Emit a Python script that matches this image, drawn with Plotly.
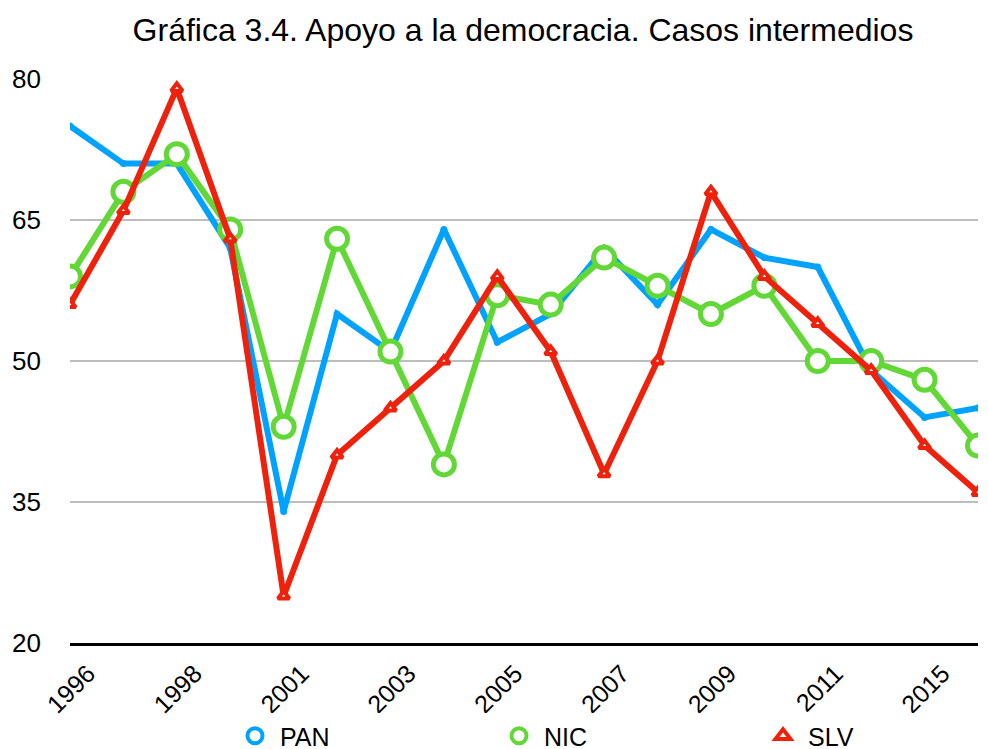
import plotly.graph_objects as go

years = ["1996", "1997", "1998", "2000", "2001", "2002", "2003", "2004", "2005",
         "2006", "2007", "2008", "2009", "2010", "2011", "2013", "2015", "2016"]
pan = [75, 71, 71, 62, 34, 55, 51, 64, 52, 55, 62, 56, 64, 61, 60, 49, 44, 45]
nic = [59, 68, 72, 64, 43, 63, 51, 39, 57, 56, 61, 58, 55, 58, 50, 50, 48, 41]
slv = [56, 66, 79, 63, 25, 40, 45, 50, 59, 51, 38, 50, 68, 59, 54, 49, 41, 36]
tick_years = ["1996", "1998", "2001", "2003", "2005", "2007", "2009", "2011", "2015"]
y_ticks = [20, 35, 50, 65, 80]
series_names = ["PAN", "NIC", "SLV"]

BLUE = "#00A2FF"
GREEN = "#61D836"
RED = "#EE220C"
FONT = "Liberation Sans"

fig = go.Figure()
fig.add_trace(go.Scatter(
    x=years, y=pan, name="PAN", mode="lines+markers", showlegend=False,
    line=dict(color=BLUE, width=6),
    marker=dict(symbol="circle", size=7, color=BLUE),
))
fig.add_trace(go.Scatter(
    x=years, y=nic, name="NIC", mode="lines+markers", showlegend=False,
    line=dict(color=GREEN, width=6),
    marker=dict(symbol="circle", size=21, color="white", line=dict(color=GREEN, width=5)),
))
fig.add_trace(go.Scatter(
    x=years, y=slv, name="SLV", mode="lines+markers", showlegend=False,
    line=dict(color=RED, width=6),
    marker=dict(symbol="triangle-up", size=10, color="white", line=dict(color=RED, width=4)),
))

# legend entries (symbol only, like the reference)
legend_styles = [
    ("circle", BLUE, 15),
    ("circle", GREEN, 15),
    ("triangle-up", RED, 13),
]
for name, (sym, col, sz) in zip(series_names, legend_styles):
    fig.add_trace(go.Scatter(
        x=[None], y=[None], name=name, mode="markers", showlegend=True,
        marker=dict(symbol=sym, size=sz, color="white", line=dict(color=col, width=4)),
    ))

L, T, PW, PH = 62, 71, 908, 564
fig.update_layout(
    width=988, height=749,
    margin=dict(l=L, r=988 - L - PW, t=T, b=749 - T - PH, autoexpand=False),
    plot_bgcolor="white", paper_bgcolor="white",
    font=dict(family=FONT, size=25, color="black"),
    title=dict(text="Gráfica 3.4. Apoyo a la democracia. Casos intermedios",
               xref="paper", x=(515 - L) / PW, xanchor="center",
               y=1 - 22 / 749, yanchor="middle",
               font=dict(family=FONT, size=32, color="black")),
    showlegend=True,
    legend=dict(orientation="h", x=(222 - L) / PW, xanchor="left",
                y=-0.1649, yanchor="middle",
                font=dict(family=FONT, size=25), itemsizing="trace",
                itemwidth=40,
                entrywidth=209, entrywidthmode="pixels", traceorder="normal"),
)
fig.update_xaxes(
    type="category", categoryorder="array", categoryarray=years,
    tickmode="array", tickvals=tick_years, ticktext=tick_years,
    tickangle=-45, showgrid=False, showline=True, linecolor="black", linewidth=3,
    ticks="", range=[0, len(years) - 1], tickfont=dict(family=FONT, size=25),
    zeroline=False, automargin=False, ticklabelshift=18, ticklabelstandoff=3,
)
fig.update_yaxes(
    range=[20, 80], tickmode="array", tickvals=y_ticks,
    showgrid=True, gridcolor="#BDBDBD", gridwidth=2, zeroline=False,
    showline=False, ticks="", ticklabelstandoff=28, automargin=False,
    tickfont=dict(family=FONT, size=26),
)

fig.write_html("out.html")
